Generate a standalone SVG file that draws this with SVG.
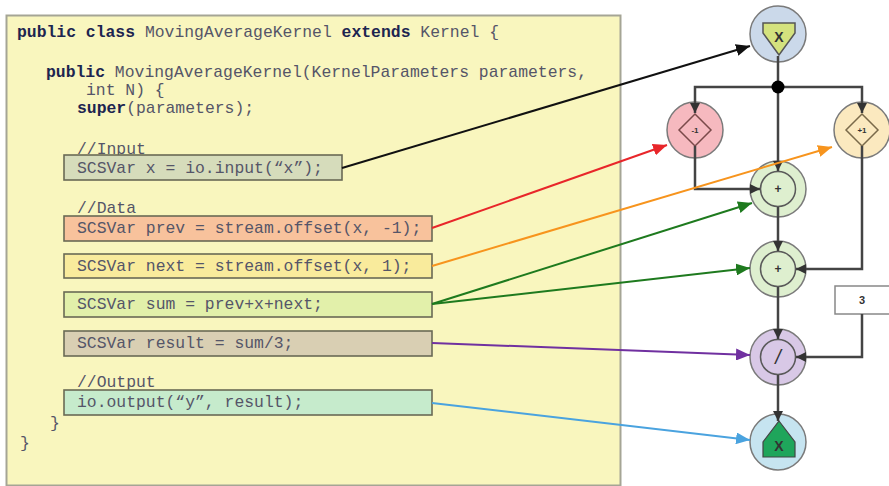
<svg xmlns="http://www.w3.org/2000/svg" width="889" height="486" viewBox="0 0 889 486">
<style>
.code{font-family:"Liberation Mono","Courier New",monospace;font-size:16.4px;fill:#555568;}
.kw{font-weight:bold;fill:#1d2550;}
.box{stroke:#6a6a55;stroke-width:1.6;}
.node{stroke:#7a7a7a;stroke-width:1.5;}
.inner{fill:none;stroke:#5a5a5a;stroke-width:1.5;}
.lbl{font-family:"Liberation Sans",Arial,sans-serif;fill:#333;text-anchor:middle;}
.wire{fill:none;stroke:#444;stroke-width:2.5;}
.arr{fill:none;stroke-width:2;}
</style>
<defs>
<marker id="ah" viewBox="0 0 10 10" refX="10" refY="5" markerWidth="10" markerHeight="10" markerUnits="userSpaceOnUse" orient="auto"><path d="M0,0 L10,5 L0,10 z" fill="#333"/></marker>
<marker id="aBlack" viewBox="0 0 14 12" refX="14" refY="6" markerWidth="14" markerHeight="12" markerUnits="userSpaceOnUse" orient="auto"><path d="M0,0 L14,6 L0,12 z" fill="#111"/></marker>
<marker id="aRed" viewBox="0 0 14 12" refX="14" refY="6" markerWidth="14" markerHeight="12" markerUnits="userSpaceOnUse" orient="auto"><path d="M0,0 L14,6 L0,12 z" fill="#e8262a"/></marker>
<marker id="aOrange" viewBox="0 0 14 12" refX="14" refY="6" markerWidth="14" markerHeight="12" markerUnits="userSpaceOnUse" orient="auto"><path d="M0,0 L14,6 L0,12 z" fill="#f7941d"/></marker>
<marker id="aGreen" viewBox="0 0 14 12" refX="14" refY="6" markerWidth="14" markerHeight="12" markerUnits="userSpaceOnUse" orient="auto"><path d="M0,0 L14,6 L0,12 z" fill="#1e7a1e"/></marker>
<marker id="aPurple" viewBox="0 0 14 12" refX="14" refY="6" markerWidth="14" markerHeight="12" markerUnits="userSpaceOnUse" orient="auto"><path d="M0,0 L14,6 L0,12 z" fill="#7030a0"/></marker>
<marker id="aBlue" viewBox="0 0 14 12" refX="14" refY="6" markerWidth="14" markerHeight="12" markerUnits="userSpaceOnUse" orient="auto"><path d="M0,0 L14,6 L0,12 z" fill="#4aa3df"/></marker>
</defs>
<rect width="889" height="486" fill="#ffffff"/>

<g id="code-panel">
<rect x="6.5" y="15.5" width="614" height="470" fill="#f9f6be" stroke="#a5a595" stroke-width="2"/>
<text class="code" x="17" y="37"><tspan class="kw">public class</tspan> MovingAverageKernel <tspan class="kw">extends</tspan> Kernel {</text>
<text class="code" x="46" y="77"><tspan class="kw">public</tspan> MovingAverageKernel(KernelParameters parameters,</text>
<text class="code" x="86" y="95">int N) {</text>
<text class="code" x="77" y="113"><tspan class="kw">super</tspan>(parameters);</text>
<text class="code" x="77" y="154">//Input</text>
<text class="code" x="77" y="213">//Data</text>
<text class="code" x="77" y="387">//Output</text>
<text class="code" x="50" y="428">}</text>
<text class="code" x="20" y="448">}</text>
</g>

<g id="code-input">
<rect class="box" x="64" y="155" width="278" height="25" fill="#d6dcbb"/>
<text class="code" x="77" y="173">SCSVar x = io.input(“x”);</text>
</g>
<g id="code-prev">
<rect class="box" x="64" y="216" width="368" height="25" fill="#f8c29c"/>
<text class="code" x="77" y="233">SCSVar prev = stream.offset(x, -1);</text>
</g>
<g id="code-next">
<rect class="box" x="64" y="254" width="368" height="24" fill="#f9eb9c"/>
<text class="code" x="77" y="271">SCSVar next = stream.offset(x, 1);</text>
</g>
<g id="code-sum">
<rect class="box" x="64" y="292" width="368" height="25" fill="#e2f0aa"/>
<text class="code" x="77" y="309">SCSVar sum = prev+x+next;</text>
</g>
<g id="code-result">
<rect class="box" x="64" y="331" width="368" height="25" fill="#d9cfb3"/>
<text class="code" x="77" y="348">SCSVar result = sum/3;</text>
</g>
<g id="code-output">
<rect class="box" x="64" y="390" width="368" height="25" fill="#c6ebcc"/>
<text class="code" x="77" y="407">io.output(“y”, result);</text>
</g>

<g id="node-input">
<circle class="node" cx="778" cy="34" r="28" fill="#cbd9ea"/>
<path d="M763,23 H795 V33 L779,55 L763,33 Z" fill="#d4e27e" stroke="#555" stroke-width="1.5"/>
<text class="lbl" x="779" y="42" font-size="14" font-weight="bold">X</text>
</g>
<g id="node-prev">
<circle class="node" cx="695" cy="130" r="28" fill="#f6b9bf"/>
<path d="M695,114 L711,130 L695,146 L679,130 Z" fill="none" stroke="#7a4a4a" stroke-width="1.5"/>
<text class="lbl" x="695" y="133" font-size="8" font-weight="bold">-1</text>
</g>
<g id="node-next">
<circle class="node" cx="862" cy="130" r="28" fill="#fbe9bf"/>
<path d="M862,114 L878,130 L862,146 L846,130 Z" fill="none" stroke="#7a6a4a" stroke-width="1.5"/>
<text class="lbl" x="862" y="133" font-size="8" font-weight="bold">+1</text>
</g>
<g id="node-sum1">
<circle class="node" cx="778" cy="189" r="28" fill="#deefcf"/>
<circle class="inner" cx="778" cy="189" r="17.5"/>
<text class="lbl" x="778" y="193" font-size="12" font-weight="bold">+</text>
</g>
<g id="node-sum2">
<circle class="node" cx="778" cy="269" r="28" fill="#deefcf"/>
<circle class="inner" cx="778" cy="269" r="17.5"/>
<text class="lbl" x="778" y="273" font-size="12" font-weight="bold">+</text>
</g>
<g id="node-const">
<rect x="835" y="286" width="60" height="28" fill="#ffffff" stroke="#888" stroke-width="1.5"/>
<text class="lbl" x="862" y="304" font-size="11" font-weight="bold">3</text>
</g>
<g id="node-div">
<circle class="node" cx="778" cy="357" r="28" fill="#d8c8e6"/>
<circle class="inner" cx="778" cy="357" r="17.5"/>
<text class="lbl" x="778" y="364" font-size="20" font-style="italic">/</text>
</g>
<g id="node-output">
<circle class="node" cx="778" cy="442" r="28" fill="#c6e4f0"/>
<path d="M779,421 L795,442 V457 H763 V442 Z" fill="#1fa55b" stroke="#444" stroke-width="1.2"/>
<text class="lbl" x="779" y="451" font-size="14" font-weight="bold">X</text>
</g>

<g id="connectors">
<path class="wire" d="M778,56 V87"/>
<path class="wire" d="M778,87 H695 V113" marker-end="url(#ah)"/>
<path class="wire" d="M778,87 H862 V113" marker-end="url(#ah)"/>
<path class="wire" d="M778,87 V171" marker-end="url(#ah)"/>
<circle cx="778" cy="87" r="6.5" fill="#000"/>
<path class="wire" d="M695,146 V189 H760" marker-end="url(#ah)"/>
<path class="wire" d="M862,146 V269 H796" marker-end="url(#ah)"/>
<path class="wire" d="M778,207 V251" marker-end="url(#ah)"/>
<path class="wire" d="M778,287 V339" marker-end="url(#ah)"/>
<path class="wire" d="M862,314 V357 H796" marker-end="url(#ah)"/>
<path class="wire" d="M778,375 V421" marker-end="url(#ah)"/>

<line class="arr" x1="342" y1="168" x2="750" y2="46" stroke="#111" marker-end="url(#aBlack)"/>
<line class="arr" x1="432" y1="228" x2="667" y2="145" stroke="#e8262a" marker-end="url(#aRed)"/>
<line class="arr" x1="432" y1="266" x2="832" y2="147" stroke="#f7941d" marker-end="url(#aOrange)"/>
<line class="arr" x1="432" y1="304" x2="752" y2="203" stroke="#1e7a1e" marker-end="url(#aGreen)"/>
<line class="arr" x1="432" y1="304" x2="750" y2="268" stroke="#1e7a1e" marker-end="url(#aGreen)"/>
<line class="arr" x1="432" y1="343" x2="750" y2="355" stroke="#7030a0" marker-end="url(#aPurple)"/>
<line class="arr" x1="432" y1="403" x2="750" y2="440" stroke="#4aa3df" marker-end="url(#aBlue)"/>
</g>
</svg>
